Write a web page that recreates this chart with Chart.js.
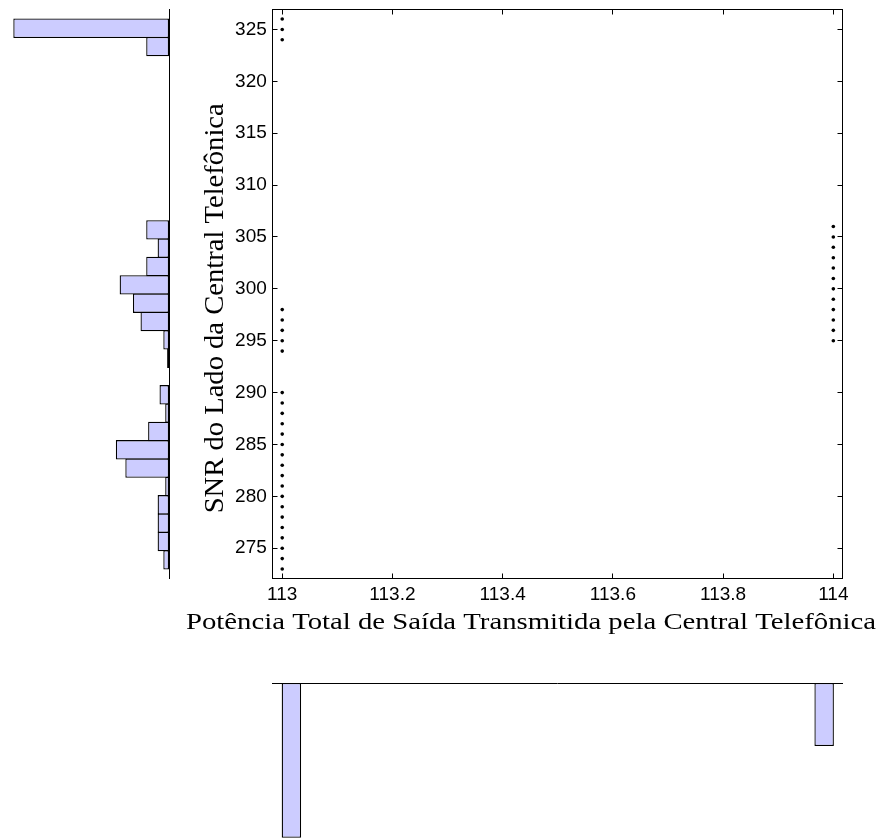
<!DOCTYPE html>
<html>
<head>
<meta charset="utf-8">
<script src="https://cdn.jsdelivr.net/npm/chart.js@4/dist/chart.umd.min.js"></script>
<style>
  html, body { margin: 0; padding: 0; background: #fff; }
  #wrap { position: relative; width: 885px; height: 838px; overflow: hidden; }
  #wrap canvas { position: absolute; left: 0; top: 0; }
</style>
</head>
<body>
<div id="wrap">
  <canvas id="main" width="885" height="838"></canvas>
  <canvas id="histSnr" width="885" height="838"></canvas>
  <canvas id="histPower" width="885" height="838"></canvas>
</div>
<script>
// ---- Data ----------------------------------------------------------
// Transmit power levels (x) and the SNR values observed at each level (y)
const powerLevels = [113, 114];
const snrAt113 = [273, 274, 275, 276, 277, 278, 279, 280, 281, 282, 283, 284, 285, 286, 287, 288, 289, 290,
                  294, 295, 296, 297, 298,
                  324, 325, 326];
const snrAt114 = [295, 296, 297, 298, 299, 300, 301, 302, 303, 304, 305, 306];

// Axis ticks
const powerTicks = [113, 113.2, 113.4, 113.6, 113.8, 114];
const powerTickLabels = ['113', '113.2', '113.4', '113.6', '113.8', '114'];
const snrTicks = [275, 280, 285, 290, 295, 300, 305, 310, 315, 320, 325];

// Axis limits
const powerLimits = [112.982, 114.017];
const snrLimits = [272.1, 326.97];

// Marginal histograms: 30 equal-width bins over each variable's range
const snrBinRange = [273, 326];
const snrBinCounts = [3, 6, 6, 6, 2, 23, 28, 11, 2, 5,
                      0, 1, 3, 15, 19, 26, 12, 6, 12, 0,
                      0, 0, 0, 0, 0, 0, 0, 0, 12, 82];
const powerBinRange = [113, 114];
const powerBinCounts = [199, 0, 0, 0, 0, 0, 0, 0, 0, 0,
                        0, 0, 0, 0, 0, 0, 0, 0, 0, 0,
                        0, 0, 0, 0, 0, 0, 0, 0, 0, 81];

const xTitle = 'Potência Total de Saída Transmitida pela Central Telefônica';
const yTitle = 'SNR do Lado da Central Telefônica';

// ---- Layout --------------------------------------------------------
const W = 885, H = 838;
const plotBox = { left: 272.3, right: 842.7, top: 9, bottom: 578.3 };
const snrHistBox = { left: 13.3, right: 169 };
const powerHistBox = { top: 683, bottom: 837.7 };
const Y_AXIS_W = 60, X_AXIS_H = 30;

const BAR_FILL = 'rgb(204,204,255)';
const BAR_EDGE = '#000';
const TICK_FONT = { family: '"Liberation Sans", Arial, Helvetica, sans-serif', size: 19 };

const binCenters = (range, n) =>
  Array.from({ length: n }, (_, k) => range[0] + (k + 0.5) * (range[1] - range[0]) / n);

const crisp = v => Math.round(v - 0.5) + 0.5;

// Box around the scatter axes with inward tick marks on all four sides
const frameTicks = {
  id: 'frameTicks',
  afterDraw(chart, args, opts) {
    const { ctx, chartArea: a, scales: { x, y } } = chart;
    const len = opts.length || 5;
    const L = crisp(a.left), R = crisp(a.right), T = crisp(a.top), B = crisp(a.bottom);
    ctx.save();
    ctx.strokeStyle = '#000';
    ctx.lineWidth = 1;
    ctx.strokeRect(L, T, R - L, B - T);
    ctx.beginPath();
    x.ticks.forEach(t => {
      const p = crisp(x.getPixelForValue(t.value));
      ctx.moveTo(p, B); ctx.lineTo(p, B - len);
      ctx.moveTo(p, T); ctx.lineTo(p, T + len);
    });
    y.ticks.forEach(t => {
      const p = crisp(y.getPixelForValue(t.value));
      ctx.moveTo(L, p); ctx.lineTo(L + len, p);
      ctx.moveTo(R, p); ctx.lineTo(R - len, p);
    });
    ctx.stroke();
    ctx.restore();
  }
};

// Serif axis titles, fitted to a given run length
const axisTitles = {
  id: 'axisTitles',
  afterDraw(chart, args, opts) {
    const ctx = chart.ctx;
    ctx.save();
    ctx.fillStyle = '#000';
    ctx.font = opts.font;
    ctx.textAlign = 'center';
    ctx.textBaseline = 'alphabetic';

    const xo = opts.x;
    let w = ctx.measureText(xo.text).width;
    ctx.save();
    ctx.translate(xo.cx, xo.baseline);
    ctx.scale(xo.width / w, 1);
    ctx.fillText(xo.text, 0, 0);
    ctx.restore();

    const yo = opts.y;
    w = ctx.measureText(yo.text).width;
    ctx.save();
    ctx.translate(yo.baseline, yo.cy);
    ctx.rotate(-Math.PI / 2);
    ctx.scale(yo.length / w, yo.across);
    ctx.fillText(yo.text, 0, 0);
    ctx.restore();

    ctx.restore();
  }
};

// Histogram baseline along the zero-count edge
const baseline = {
  id: 'baseline',
  afterDatasetsDraw(chart, args, opts) {
    const { ctx, chartArea: a } = chart;
    ctx.save();
    ctx.strokeStyle = '#000';
    ctx.lineWidth = 1;
    ctx.beginPath();
    if (opts.vertical) {
      const p = crisp(chart.scales.x.getPixelForValue(0));
      ctx.moveTo(p, crisp(a.top) - 0.5); ctx.lineTo(p, crisp(a.bottom) + 0.5);
    } else {
      const p = crisp(chart.scales.y.getPixelForValue(0));
      ctx.moveTo(crisp(a.left) - 0.5, p); ctx.lineTo(crisp(a.right) + 0.5, p);
    }
    ctx.stroke();
    ctx.restore();
  }
};

// ---- Scatter --------------------------------------------------------
const pointStyle = { pointRadius: 1.8, pointHoverRadius: 1.8, pointBackgroundColor: '#000',
                     pointBorderWidth: 0, showLine: false, clip: false };

new Chart(document.getElementById('main'), {
  type: 'scatter',
  data: {
    datasets: [
      Object.assign({ data: snrAt113.map(v => ({ x: powerLevels[0], y: v })) }, pointStyle),
      Object.assign({ data: snrAt114.map(v => ({ x: powerLevels[1], y: v })) }, pointStyle)
    ]
  },
  options: {
    responsive: false,
    animation: false,
    events: [],
    layout: {
      padding: {
        left: plotBox.left - Y_AXIS_W,
        right: W - plotBox.right,
        top: plotBox.top,
        bottom: H - plotBox.bottom - X_AXIS_H
      }
    },
    plugins: {
      legend: { display: false },
      tooltip: { enabled: false },
      frameTicks: { length: 5 },
      axisTitles: {
        font: '24px "Liberation Serif", "Times New Roman", serif',
        x: { text: xTitle, cx: 531, baseline: 629.3, width: 690 },
        y: { text: yTitle, baseline: 223, cy: 308.3, length: 410, across: 1.12 }
      }
    },
    scales: {
      x: {
        type: 'linear',
        min: powerLimits[0],
        max: powerLimits[1],
        grid: { display: false, drawTicks: false },
        border: { display: false },
        ticks: {
          color: '#000', font: TICK_FONT, padding: 5, autoSkip: false, maxRotation: 0,
          callback: v => { const i = powerTicks.indexOf(v); return i >= 0 ? powerTickLabels[i] : ''; }
        },
        afterBuildTicks: s => { s.ticks = powerTicks.map(v => ({ value: v })); },
        afterFit: s => { s.height = X_AXIS_H; s.paddingLeft = s.paddingRight = s.paddingTop = s.paddingBottom = 0; }
      },
      y: {
        type: 'linear',
        min: snrLimits[0],
        max: snrLimits[1],
        grid: { display: false, drawTicks: false },
        border: { display: false },
        ticks: { color: '#000', font: TICK_FONT, padding: 5.5, autoSkip: false, callback: v => String(v) },
        afterBuildTicks: s => { s.ticks = snrTicks.map(v => ({ value: v })); },
        afterFit: s => { s.width = Y_AXIS_W; s.paddingLeft = s.paddingRight = s.paddingTop = s.paddingBottom = 0; }
      }
    }
  },
  plugins: [frameTicks, axisTitles]
});

// ---- Shared histogram bar style ----------------------------------------
const barStyle = {
  backgroundColor: BAR_FILL,
  borderColor: BAR_EDGE,
  borderWidth: 1.3,
  borderSkipped: false,
  categoryPercentage: 1,
  barPercentage: 1.06,
  clip: false
};
const hiddenIndexScale = (limits) => ({
  type: 'linear', display: false, offset: false, min: limits[0], max: limits[1],
  afterBuildTicks: s => { s.ticks = []; }
});

// ---- SNR histogram (left, bars growing leftwards) -------------------------
const snrCenters = binCenters(snrBinRange, snrBinCounts.length);
new Chart(document.getElementById('histSnr'), {
  type: 'bar',
  data: {
    datasets: [Object.assign({
      data: snrBinCounts.map((c, k) => ({ x: c, y: snrCenters[k] }))
    }, barStyle)]
  },
  options: {
    indexAxis: 'y',
    responsive: false,
    animation: false,
    events: [],
    layout: {
      padding: { left: snrHistBox.left, right: W - snrHistBox.right, top: plotBox.top, bottom: H - plotBox.bottom }
    },
    plugins: { legend: { display: false }, tooltip: { enabled: false }, baseline: { vertical: true } },
    scales: {
      y: hiddenIndexScale(snrLimits),
      x: { type: 'linear', display: false, reverse: true, min: 0, max: Math.max(...snrBinCounts) }
    }
  },
  plugins: [baseline]
});

// ---- Power histogram (bottom, bars hanging downwards) ---------------------
const powerCenters = binCenters(powerBinRange, powerBinCounts.length);
new Chart(document.getElementById('histPower'), {
  type: 'bar',
  data: {
    datasets: [Object.assign({
      data: powerBinCounts.map((c, k) => ({ x: powerCenters[k], y: c }))
    }, barStyle)]
  },
  options: {
    responsive: false,
    animation: false,
    events: [],
    layout: {
      padding: { left: plotBox.left, right: W - plotBox.right, top: powerHistBox.top, bottom: H - powerHistBox.bottom }
    },
    plugins: { legend: { display: false }, tooltip: { enabled: false }, baseline: { vertical: false } },
    scales: {
      x: hiddenIndexScale(powerLimits),
      y: { type: 'linear', display: false, reverse: true, min: 0, max: Math.max(...powerBinCounts) }
    }
  },
  plugins: [baseline]
});
</script>
</body>
</html>
